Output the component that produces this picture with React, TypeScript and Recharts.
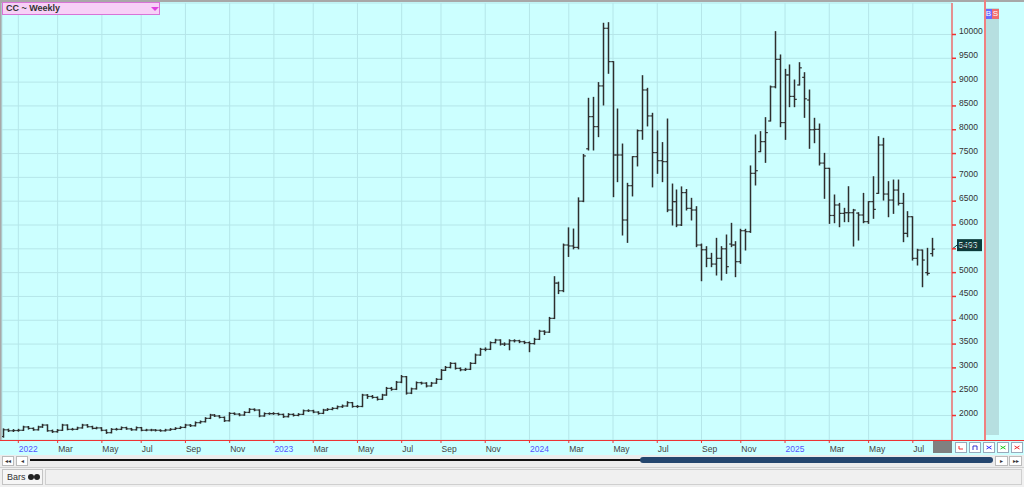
import React from "react";
import { Bar, CartesianGrid, ComposedChart, ReferenceLine, XAxis, YAxis } from "recharts";

// weekly bars [open, high, low, close], first week starts 13 Dec 2021
const weeks2021 = [
  [1560, 1720, 1545, 1700], [1700, 1715, 1665, 1680], [1680, 1705, 1665, 1685]
];
const weeks2022 = [
  [1685, 1710, 1670, 1690], [1690, 1775, 1685, 1760], [1760, 1770, 1715, 1730], [1730, 1740, 1690, 1700],
  [1700, 1775, 1695, 1760], [1760, 1815, 1750, 1800], [1800, 1805, 1670, 1680], [1680, 1695, 1645, 1660],
  [1660, 1705, 1650, 1690], [1690, 1815, 1685, 1800], [1800, 1805, 1700, 1710], [1710, 1730, 1695, 1710],
  [1710, 1755, 1705, 1740], [1740, 1815, 1735, 1800], [1800, 1810, 1755, 1765], [1765, 1775, 1720, 1730],
  [1730, 1755, 1720, 1740], [1740, 1745, 1680, 1690], [1690, 1700, 1625, 1640], [1640, 1725, 1635, 1710],
  [1710, 1730, 1695, 1710], [1710, 1760, 1705, 1745], [1745, 1755, 1710, 1720], [1720, 1730, 1690, 1700],
  [1700, 1760, 1695, 1745], [1745, 1750, 1680, 1690], [1690, 1710, 1680, 1695], [1695, 1710, 1680, 1695],
  [1695, 1705, 1675, 1690], [1690, 1700, 1670, 1680], [1680, 1710, 1675, 1695], [1695, 1725, 1690, 1710],
  [1710, 1745, 1705, 1730], [1730, 1765, 1725, 1750], [1750, 1815, 1745, 1800], [1800, 1810, 1770, 1785],
  [1785, 1865, 1780, 1850], [1850, 1885, 1840, 1870], [1870, 1955, 1865, 1940], [1940, 2025, 1935, 2010],
  [2010, 2020, 1980, 1990], [1990, 2000, 1950, 1960], [1960, 1970, 1875, 1890], [1890, 2060, 1885, 2045],
  [2045, 2055, 2020, 2030], [2030, 2040, 1995, 2010], [2010, 2080, 2005, 2066], [2066, 2145, 2060, 2130],
  [2130, 2140, 2100, 2115], [2115, 2120, 1975, 1990], [1990, 2055, 1985, 2040], [2040, 2055, 2025, 2040]
];
const weeks2023 = [
  [2040, 2060, 2025, 2040], [2040, 2050, 2010, 2024], [2024, 2030, 1960, 1975], [1975, 2040, 1970, 2024],
  [2024, 2035, 1990, 2003], [2003, 2040, 1995, 2024], [2024, 2115, 2020, 2100], [2100, 2120, 2085, 2100],
  [2100, 2110, 2060, 2072], [2072, 2080, 2030, 2045], [2045, 2130, 2040, 2115], [2115, 2145, 2105, 2129],
  [2129, 2165, 2120, 2150], [2150, 2200, 2140, 2184], [2184, 2220, 2170, 2200], [2200, 2290, 2195, 2270],
  [2270, 2275, 2175, 2190], [2190, 2210, 2170, 2190], [2190, 2445, 2185, 2430], [2430, 2440, 2360, 2400],
  [2400, 2420, 2365, 2380], [2380, 2390, 2325, 2340], [2340, 2445, 2335, 2430], [2430, 2590, 2425, 2570],
  [2570, 2590, 2530, 2550], [2550, 2715, 2545, 2700], [2700, 2840, 2690, 2815], [2815, 2820, 2450, 2470],
  [2470, 2575, 2460, 2560], [2560, 2705, 2555, 2690], [2690, 2700, 2660, 2680], [2680, 2690, 2600, 2620],
  [2620, 2695, 2615, 2680], [2680, 2775, 2675, 2760], [2760, 2965, 2755, 2950], [2950, 3030, 2945, 3010],
  [3010, 3110, 3000, 3095], [3095, 3100, 2975, 2990], [2990, 3000, 2940, 2960], [2960, 2990, 2945, 2970],
  [2970, 3110, 2965, 3095], [3095, 3290, 3090, 3270], [3270, 3410, 3265, 3390], [3390, 3420, 3360, 3390],
  [3390, 3545, 3385, 3530], [3530, 3600, 3525, 3585], [3585, 3590, 3480, 3500], [3500, 3525, 3470, 3500],
  [3500, 3590, 3380, 3570], [3570, 3590, 3545, 3570], [3570, 3580, 3530, 3550], [3550, 3560, 3510, 3530]
];
const weeks2024 = [
  [3530, 3545, 3340, 3510], [3510, 3620, 3500, 3600], [3600, 3790, 3595, 3770], [3770, 3780, 3700, 3750],
  [3750, 4060, 3745, 4040], [4040, 4915, 4035, 4780], [4780, 4800, 4560, 4620], [4620, 5600, 4600, 5580],
  [5580, 5940, 5340, 5560], [5560, 5915, 5500, 5530], [5530, 6570, 5500, 6500], [6500, 7480, 6490, 7450],
  [7600, 8660, 7575, 8275], [8275, 8680, 7575, 8065], [8065, 8990, 7855, 8920], [8920, 10235, 8520, 10130],
  [10130, 10248, 9185, 9430], [9430, 9430, 6595, 7470], [7470, 8435, 6910, 7470], [7470, 7700, 5790, 6105],
  [6105, 6875, 5635, 6825], [6825, 7435, 6610, 7435], [7435, 7995, 7240, 7980], [7980, 9135, 7800, 8835],
  [8835, 8870, 8080, 8290], [8290, 8345, 6800, 7520], [7520, 7975, 7085, 7350], [7350, 7730, 6910, 7330],
  [7330, 8225, 6280, 6315], [6315, 6860, 6000, 6490], [6490, 6735, 5965, 6000], [6000, 6800, 5990, 6680],
  [6680, 6745, 6315, 6350], [6350, 6560, 6105, 6315], [6315, 6385, 5545, 5580], [5580, 5600, 4830, 5480],
  [5480, 5545, 5125, 5300], [5300, 5405, 5125, 5180], [5180, 5720, 4950, 5300], [5300, 5545, 4845, 5500],
  [5500, 5790, 4985, 5125], [5600, 6035, 5545, 5580], [5580, 5650, 4915, 5230], [5230, 5910, 5195, 5880],
  [5880, 5910, 5475, 5860], [5860, 7240, 5845, 7085], [7085, 7890, 6840, 7140], [7540, 7960, 7540, 7750],
  [7750, 8254, 7315, 7940], [8184, 8918, 8184, 8900], [8900, 10060, 8880, 9478], [9478, 9570, 8064, 8150],
  [8150, 9268, 7798, 9150]
];
const weeks2025 = [
  [9150, 9360, 8484, 8700], [8700, 9044, 8484, 8638], [8940, 9408, 8940, 9300], [9100, 9198, 8260, 8650],
  [8624, 8834, 7610, 8000], [8000, 8240, 7728, 8008], [8008, 8120, 7260, 7300], [7300, 7504, 6560, 7190],
  [7190, 7190, 6034, 6200], [6200, 6630, 6048, 6420], [6420, 6454, 5964, 6244], [6244, 6350, 6070, 6258],
  [6258, 6804, 6070, 6258], [6258, 6328, 5558, 6314], [6250, 6258, 5684, 6210], [6210, 6664, 6048, 6070],
  [6070, 6490, 6034, 6490], [6490, 7014, 6140, 6328], [6664, 7854, 6664, 7680], [7680, 7820, 6524, 6650],
  [6650, 6910, 6174, 6524], [6524, 6944, 6244, 6734], [6734, 6944, 6420, 6454], [6454, 6664, 5650, 5824],
  [5824, 6280, 5754, 6174], [6174, 6174, 5264, 5300], [5300, 5490, 5160, 5474], [5474, 5474, 4704, 5264],
  [5000, 5510, 4950, 4984], [5400, 5720, 5348, 5493]
];

// week index of each date label
const tickWeeks = [3, 11, 20, 28, 37, 46, 55, 63, 72, 81, 89, 98, 107, 115, 124, 133, 142, 150, 159, 168, 176, 185];
const tickLabels = ["2022", "Mar", "May", "Jul", "Sep", "Nov", "2023", "Mar", "May", "Jul", "Sep", "Nov",
  "2024", "Mar", "May", "Jul", "Sep", "Nov", "2025", "Mar", "May", "Jul"];
const priceTicks = [2000, 2500, 3000, 3500, 4000, 4500, 5000, 5500, 6000, 6500, 7000, 7500, 8000, 8500, 9000, 9500, 10000];

const data = [...weeks2021, ...weeks2022, ...weeks2023, ...weeks2024, ...weeks2025].map(([o, h, l, c], i) => ({
  i, o, h, l, c, range: [l, h]
}));
const lastClose = data[data.length - 1].c;

const font = "'Liberation Sans', Arial, sans-serif";

function OhlcBar(props: any) {
  const { x, y, width, height, payload } = props;
  if (!payload) return null;
  const top = Math.min(y, y + height);
  const h = Math.abs(height);
  const span = payload.h - payload.l;
  const yOf = (v: number) => (span > 0 ? top + ((payload.h - v) / span) * h : top);
  const cx = Math.round(x + width / 2) + 0.5;
  return (
    <g stroke="#2e2e2e">
      <line x1={cx} x2={cx} y1={top - 0.5} y2={top + h + 0.5} strokeWidth={1.5} />
      <line x1={cx - 2.3} x2={cx} y1={yOf(payload.o)} y2={yOf(payload.o)} strokeWidth={1.2} />
      <line x1={cx} x2={cx + 2.3} y1={yOf(payload.c)} y2={yOf(payload.c)} strokeWidth={1.2} />
    </g>
  );
}

function DateTick({ x, y, payload }: any) {
  const label = tickLabels[tickWeeks.indexOf(payload.value)];
  const isYear = /^\d{4}$/.test(label || "");
  return (
    <text x={x + 0.5} y={y + 8.5} fontSize={8.5} fontFamily={font} fill={isYear ? "#5555ff" : "#444"} textAnchor="start">
      {label}
    </text>
  );
}

function PriceTick({ x, y, payload }: any) {
  return (
    <text x={x} y={y} fontSize={8.5} fontFamily={font} fill="#333" textAnchor="start">
      {payload.value}
    </text>
  );
}

function LastPrice({ viewBox }: any) {
  const right = viewBox.x + viewBox.width;
  const yy = viewBox.y;
  return (
    <g>
      <line x1={right} y1={yy} x2={right + 5} y2={yy - 4} stroke="#0c3b3b" strokeWidth={1} />
      <rect x={right + 5} y={yy - 10} width={25} height={12} fill="#0c3b3b" />
      <text x={right + 6.5} y={yy - 1} fontSize={8.5} fontFamily={font} fill="#dffcff">
        {lastClose}
      </text>
    </g>
  );
}

function MiniButton({ left, color, d }: { left: number; color: string; d: string }) {
  return (
    <div style={{ position: "absolute", left, top: 442, width: 12, height: 11, background: "#fff", border: "1px solid #9ab", boxSizing: "border-box" }}>
      <svg width={10} height={9} style={{ position: "absolute", left: 0, top: 0 }}>
        <path d={d} stroke={color} strokeWidth={1} fill="none" />
      </svg>
    </div>
  );
}

export default function App() {
  return (
    <div style={{ position: "absolute", left: 0, top: 0, width: 1024, height: 487, background: "#ccffff", overflow: "hidden", fontFamily: font }}>
      <div style={{ position: "absolute", left: 0, top: 0, width: 1024, height: 2, background: "#a8a8a8" }} />
      <div style={{ position: "absolute", left: 0, top: 0, width: 2, height: 440, background: "#a8a8a8" }} />
      <div style={{ position: "absolute", left: 985, top: 8, width: 14, height: 427, background: "#b6dfe0" }} />
      <div style={{ position: "absolute", left: 985, top: 9, width: 7, height: 10, background: "#6a6aff", color: "#fff", fontSize: 8, lineHeight: "10px", textAlign: "center" }}>B</div>
      <div style={{ position: "absolute", left: 992, top: 9, width: 7, height: 10, background: "#f06c6c", color: "#fff", fontSize: 8, lineHeight: "10px", textAlign: "center" }}>S</div>
      <div style={{ position: "absolute", left: 984, top: 0, width: 1.5, height: 440, background: "#f08080" }} />

      <div style={{ position: "absolute", left: 0, top: 0 }}>
        <ComposedChart width={1024} height={455} data={data} margin={{ top: 3, right: 39, bottom: 0, left: 2 }}>
          <CartesianGrid stroke="#b5e6e9" strokeWidth={1} />
          <XAxis
            dataKey="i"
            type="number"
            domain={[-0.32, 192.97]}
            allowDataOverflow
            ticks={tickWeeks}
            interval={0}
            height={15}
            axisLine={false}
            tickLine={{ stroke: "#ee3333" }}
            tickSize={3}
            tickMargin={0}
            tick={<DateTick />}
          />
          <YAxis
            orientation="right"
            width={33}
            domain={[1486, 10661]}
            allowDataOverflow
            ticks={priceTicks}
            interval={0}
            axisLine={{ stroke: "#f07070", strokeWidth: 1.5 }}
            tickLine={{ stroke: "#ee3333", strokeWidth: 1.5 }}
            tickSize={4}
            tickMargin={3}
            tick={<PriceTick />}
          />
          <Bar dataKey="range" barSize={4} shape={<OhlcBar />} isAnimationActive={false} />
          <ReferenceLine y={lastClose} stroke="none" label={<LastPrice />} />
        </ComposedChart>
      </div>

      <div style={{ position: "absolute", left: 0, top: 440, width: 1024, height: 1, background: "#ee3333" }} />

      <div style={{ position: "absolute", left: 2, top: 2, width: 158, height: 13, background: "#f7d0f7", border: "1px solid #d774d7", boxSizing: "border-box" }}>
        <span style={{ position: "absolute", left: 3, top: 0, fontSize: 9, fontWeight: "bold", lineHeight: "11px", color: "#333" }}>CC ~ Weekly</span>
        <svg width={8} height={5} style={{ position: "absolute", left: 148, top: 4 }}>
          <path d="M0 0 L8 0 L4 4 Z" fill="#e040e0" />
        </svg>
      </div>

      <div style={{ position: "absolute", left: 933, top: 441, width: 19, height: 12, background: "#808080" }} />
      <MiniButton left={955} color="#e33" d="M3 3 L3 6 L7 6" />
      <MiniButton left={969} color="#33c" d="M3 7 L3 3 L7 3 L7 7" />
      <MiniButton left={983} color="#33f" d="M2.5 3 L5 4.5 L7.5 3 M2.5 6 L5 4.5 L7.5 6" />
      <MiniButton left={997} color="#2c2" d="M2.5 3 L5 4.5 L7.5 3 M2.5 6 L5 4.5 L7.5 6" />
      <MiniButton left={1011} color="#e33" d="M2.5 3 L5 4.5 L7.5 3 M2.5 6 L5 4.5 L7.5 6" />

      <div style={{ position: "absolute", left: 0, top: 455, width: 1024, height: 12, background: "#ececec" }} />
      <div style={{ position: "absolute", left: 2, top: 456, width: 12, height: 10, background: "#fff", border: "1px solid #bbb", boxSizing: "border-box", fontSize: 6, lineHeight: "8px", textAlign: "center", color: "#333" }}>◂◂</div>
      <div style={{ position: "absolute", left: 16, top: 456, width: 12, height: 10, background: "#fff", border: "1px solid #bbb", boxSizing: "border-box", fontSize: 6, lineHeight: "8px", textAlign: "center", color: "#333" }}>◂</div>
      <div style={{ position: "absolute", left: 30, top: 459, width: 612, height: 2, background: "#111" }} />
      <div style={{ position: "absolute", left: 640, top: 457, width: 353, height: 6, background: "#24466e", borderRadius: 3 }} />
      <div style={{ position: "absolute", left: 995, top: 456, width: 13, height: 10, background: "#fff", border: "1px solid #bbb", boxSizing: "border-box", fontSize: 6, lineHeight: "8px", textAlign: "center", color: "#333" }}>▸</div>
      <div style={{ position: "absolute", left: 1009, top: 456, width: 13, height: 10, background: "#fff", border: "1px solid #bbb", boxSizing: "border-box", fontSize: 6, lineHeight: "8px", textAlign: "center", color: "#333" }}>▸▸</div>

      <div style={{ position: "absolute", left: 0, top: 467, width: 1024, height: 20, background: "#f0f0f0", borderTop: "1px solid #d0d0d0", boxSizing: "border-box" }} />
      <div style={{ position: "absolute", left: 2, top: 469, width: 41, height: 16, background: "#f6f6f6", border: "1px solid #c4c4c4", boxSizing: "border-box" }}>
        <span style={{ position: "absolute", left: 4, top: 2, fontSize: 9, color: "#333", lineHeight: "11px" }}>Bars</span>
        <span style={{ position: "absolute", left: 25, top: 4, width: 6, height: 6, borderRadius: 3, background: "#222" }} />
        <span style={{ position: "absolute", left: 31, top: 4, width: 6, height: 6, borderRadius: 3, background: "#222" }} />
      </div>
      <div style={{ position: "absolute", left: 45, top: 469, width: 977, height: 16, background: "#f0f0f0", border: "1px solid #cfcfcf", boxSizing: "border-box" }} />
    </div>
  );
}
